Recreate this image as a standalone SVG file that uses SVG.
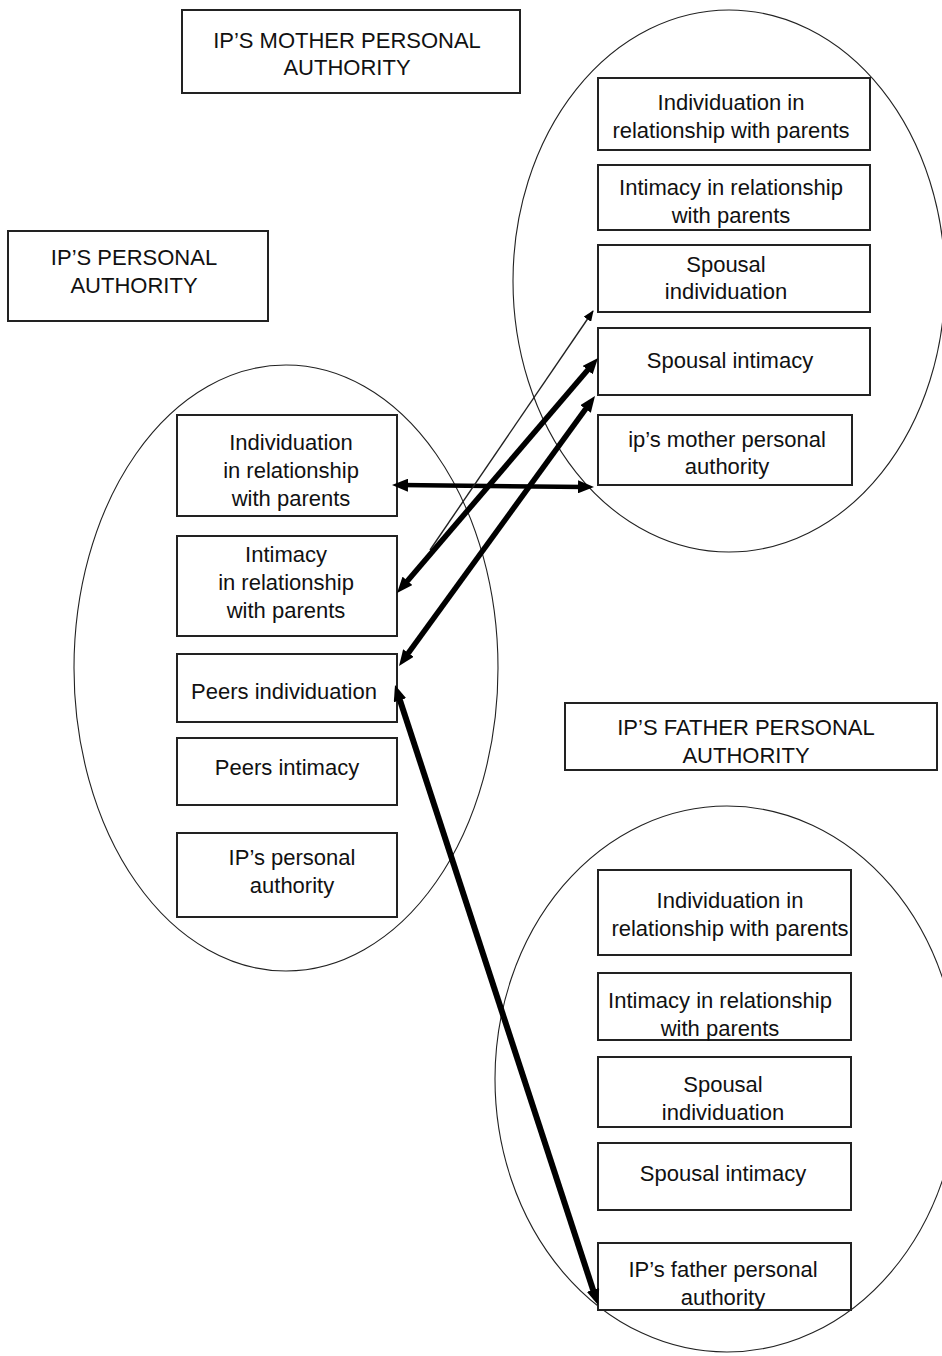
<svg xmlns="http://www.w3.org/2000/svg" width="942" height="1356" viewBox="0 0 942 1356">
<style>
.bx{fill:#fff;stroke:#222;stroke-width:2}
.el{fill:none;stroke:#222;stroke-width:1.1}
text{font-family:"Liberation Sans",Arial,sans-serif;font-size:22px;fill:#111;text-anchor:middle}
.thick{stroke:#000;stroke-width:5.5;fill:none;marker-start:url(#ah);marker-end:url(#ah)}
.thin{stroke:#222;stroke-width:1.4;fill:none;marker-end:url(#ahs)}
</style>
<defs>
<marker id="ah" markerUnits="userSpaceOnUse" viewBox="0 0 16 13" markerWidth="16" markerHeight="13" refX="7" refY="6.5" orient="auto-start-reverse"><path d="M0,0 L16,6.5 L0,13 z" fill="#000"/></marker>
<marker id="ahs" markerUnits="userSpaceOnUse" viewBox="0 0 11 9" markerWidth="11" markerHeight="9" refX="10" refY="4.5" orient="auto"><path d="M0,0 L11,4.5 L0,9 z" fill="#000"/></marker>
</defs>
<rect width="942" height="1356" fill="#fff"/>

<g id="ellipses">
<ellipse class="el" cx="729" cy="281" rx="216" ry="271"/>
<ellipse class="el" cx="286" cy="668" rx="212" ry="303"/>
<ellipse class="el" cx="727" cy="1079" rx="232" ry="273"/>
</g>

<g id="title-mother"><rect class="bx" x="182" y="10" width="338" height="83"/><text x="347" y="48">IP’S MOTHER PERSONAL</text><text x="347" y="75">AUTHORITY</text></g>
<g id="title-ip"><rect class="bx" x="8" y="231" width="260" height="90"/><text x="134" y="265">IP’S PERSONAL</text><text x="134" y="293">AUTHORITY</text></g>
<g id="title-father"><rect class="bx" x="565" y="703" width="372" height="67"/><text x="746" y="735">IP’S FATHER PERSONAL</text><text x="746" y="763">AUTHORITY</text></g>

<g id="m-indiv"><rect class="bx" x="598" y="78" width="272" height="72"/><text x="731" y="110">Individuation in</text><text x="731" y="138">relationship with parents</text></g>
<g id="m-intim"><rect class="bx" x="598" y="165" width="272" height="65"/><text x="731" y="195">Intimacy in relationship</text><text x="731" y="223">with parents</text></g>
<g id="m-sp-indiv"><rect class="bx" x="598" y="245" width="272" height="67"/><text x="726" y="272">Spousal</text><text x="726" y="299">individuation</text></g>
<g id="m-sp-intim"><rect class="bx" x="598" y="328" width="272" height="67"/><text x="730" y="368">Spousal intimacy</text></g>
<g id="m-auth"><rect class="bx" x="598" y="415" width="254" height="70"/><text x="727" y="447">ip’s mother personal</text><text x="727" y="474">authority</text></g>

<g id="i-indiv"><rect class="bx" x="177" y="415" width="220" height="101"/><text x="291" y="450">Individuation</text><text x="291" y="478">in relationship</text><text x="291" y="506">with parents</text></g>
<g id="i-intim"><rect class="bx" x="177" y="536" width="220" height="100"/><text x="286" y="562">Intimacy</text><text x="286" y="590">in relationship</text><text x="286" y="618">with parents</text></g>
<g id="i-peers-indiv"><rect class="bx" x="177" y="654" width="220" height="68"/><text x="284" y="699">Peers individuation</text></g>
<g id="i-peers-intim"><rect class="bx" x="177" y="738" width="220" height="67"/><text x="287" y="775">Peers intimacy</text></g>
<g id="i-auth"><rect class="bx" x="177" y="833" width="220" height="84"/><text x="292" y="865">IP’s personal</text><text x="292" y="893">authority</text></g>

<g id="f-indiv"><rect class="bx" x="598" y="870" width="253" height="85"/><text x="730" y="908">Individuation in</text><text x="730" y="936">relationship with parents</text></g>
<g id="f-intim"><rect class="bx" x="598" y="973" width="253" height="67"/><text x="720" y="1008">Intimacy in relationship</text><text x="720" y="1036">with parents</text></g>
<g id="f-sp-indiv"><rect class="bx" x="598" y="1057" width="253" height="70"/><text x="723" y="1092">Spousal</text><text x="723" y="1120">individuation</text></g>
<g id="f-sp-intim"><rect class="bx" x="598" y="1143" width="253" height="67"/><text x="723" y="1181">Spousal intimacy</text></g>
<g id="f-auth"><rect class="bx" x="598" y="1243" width="253" height="67"/><text x="723" y="1277">IP’s father personal</text><text x="723" y="1305">authority</text></g>

<g id="connectors">
<line class="thick" x1="401" y1="485.1" x2="585" y2="486.9" style="stroke-width:4.5"/>
<line class="thin" x1="430" y1="550" x2="593" y2="311"/>
<line class="thick" x1="402.9" y1="586.2" x2="592.2" y2="364.8"/>
<line class="thick" x1="404.3" y1="658.7" x2="589.7" y2="403.3"/>
<line class="thick" x1="397.8" y1="693.6" x2="595.2" y2="1296.4" style="stroke-width:6"/>
</g>
</svg>
